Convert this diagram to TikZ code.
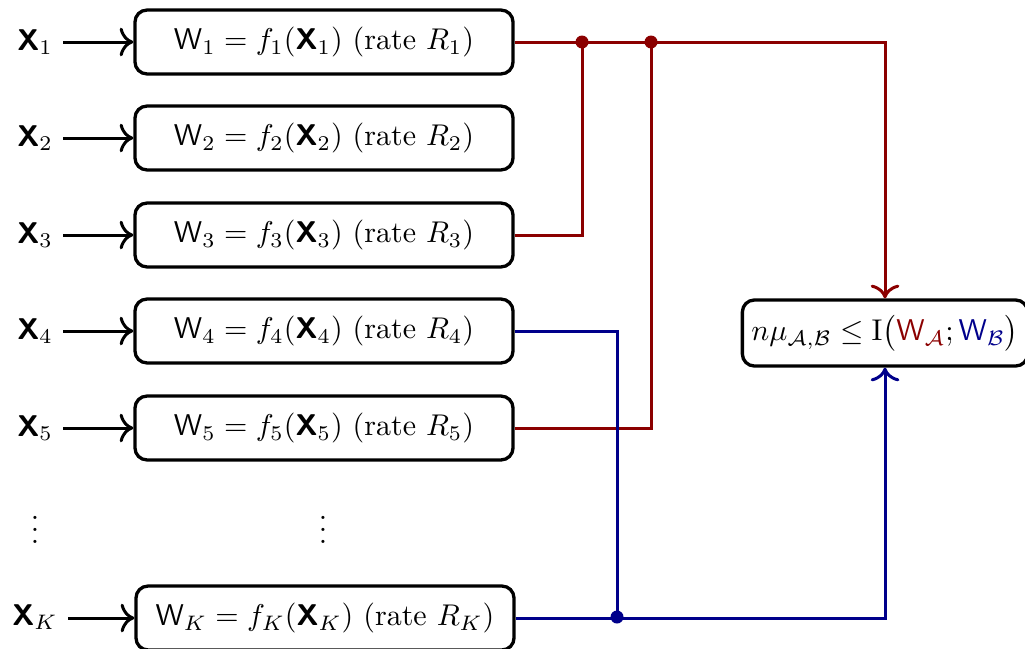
\documentclass[tikz,border=0pt]{standalone}
\usepackage{amsmath,amssymb}
\usetikzlibrary{arrows.meta}
\definecolor{dred}{RGB}{139,0,0}
\definecolor{dblue}{RGB}{0,0,139}
\newcommand{\bX}{\textsf{\textbf{X}}}
\newcommand{\sW}{\mathsf{W}}
\begin{document}
\begin{tikzpicture}[x=0.3333pt,y=-0.3333pt,
  tip/.style={-{To[scale=1.2]}},
  enc/.style={draw,line width=1.1pt,rounded corners=4pt,minimum width=126pt,minimum height=21.3pt,inner sep=2pt},
  inp/.style={inner sep=3.333pt},
  inarrow/.style={line width=1pt,tip},
  redline/.style={line width=1pt,dred},
  blueline/.style={line width=1pt,dblue}]
\useasboundingbox (0,0) rectangle (1025,648);
% inputs
\node[inp] (x1) at (35,42) {$\bX_1$};
\node[inp] (x2) at (35,138) {$\bX_2$};
\node[inp] (x3) at (35,235) {$\bX_3$};
\node[inp] (x4) at (35,331) {$\bX_4$};
\node[inp] (x5) at (35,428) {$\bX_5$};
\node[inp] (xk) at (35,617) {$\bX_K$};
\node (vd1) at (35,521) {$\vdots$};
\node (vd2) at (323,521) {$\vdots$};
% encoders
\node[enc] (b1) at (324,42) {$\sW_1 = f_1(\bX_1)$ (rate $R_1$)};
\node[enc] (b2) at (324,138) {$\sW_2 = f_2(\bX_2)$ (rate $R_2$)};
\node[enc] (b3) at (324,235) {$\sW_3 = f_3(\bX_3)$ (rate $R_3$)};
\node[enc] (b4) at (324,331) {$\sW_4 = f_4(\bX_4)$ (rate $R_4$)};
\node[enc] (b5) at (324,428) {$\sW_5 = f_5(\bX_5)$ (rate $R_5$)};
\node[enc] (bk) at (325,618) {$\sW_K = f_K(\bX_K)$ (rate $R_K$)};
% right box
\node[draw,line width=1.1pt,rounded corners=4pt,minimum height=22pt,inner sep=3pt] (rb) at (885,333)
  {$n\mu_{\mathcal{A},\mathcal{B}} \leq \mathrm{I}\big(\textcolor{dred}{\sW_{\mathcal{A}}};\textcolor{dblue}{\sW_{\mathcal{B}}}\big)$};
% input arrows
\foreach \i in {1,2,3,4,5} \draw[inarrow] (x\i) -- (b\i);
\draw[inarrow] (xk.east |- bk.west) -- (bk.west);
% junctions
\coordinate (j1) at (582,42);
\coordinate (j2) at (651,42);
\coordinate (j3) at (617,617);
% red
\draw[redline,tip] (b1.east) -| (rb.north);
\draw[redline] (b3.east) -| (j1);
\draw[redline] (b5.east) -| (j2);
\fill[dred] (j1) circle (6.5);
\fill[dred] (j2) circle (6.5);
% blue
\draw[blueline] (b4.east) -| (j3);
\draw[blueline,tip] (bk.east) -| (rb.south);
\fill[dblue] (j3) circle (6.5);
\end{tikzpicture}
\end{document}
